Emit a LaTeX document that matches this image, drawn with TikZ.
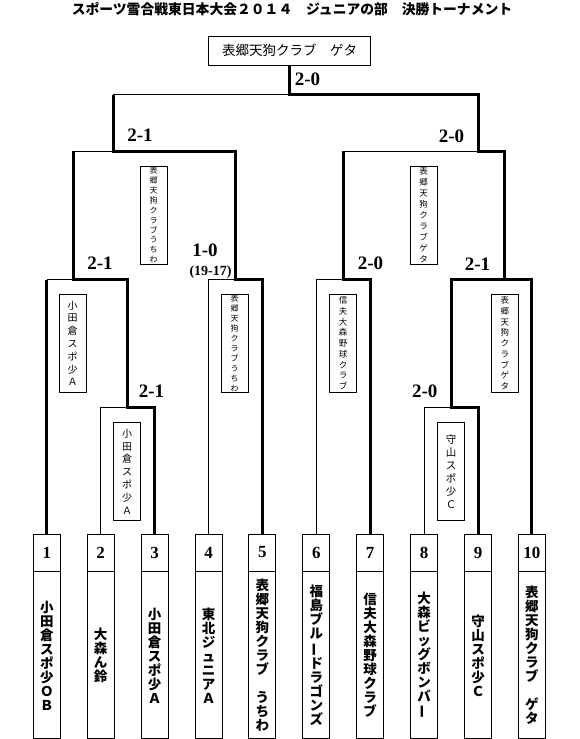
\documentclass[tikz,border=0pt]{standalone}
\usepackage{fontspec}
\usepackage{graphicx}
\setmainfont{Noto Sans CJK JP}
\newfontfamily\numfont{Liberation Serif}
\newcommand\vbar{\rotatebox[origin=c]{90}{ー}}
\tikzset{
  loseline/.style={line width=0.9pt},
  winline/.style={line width=3pt, line join=miter},
  numbox/.style={draw, line width=0.9pt, minimum width=27pt, minimum height=37pt, inner sep=0pt,
    font=\numfont\bfseries\fontsize{17}{17}\selectfont},
  namebox/.style={draw, line width=0.9pt, minimum width=27pt, minimum height=167pt, inner sep=0pt,
    align=center, anchor=north, font=\bfseries\fontsize{13.5}{14}\selectfont},
  lbox/.style={draw, line width=0.8pt, minimum width=27pt, minimum height=98pt, inner sep=0pt, align=center},
  score/.style={font=\numfont\bfseries\fontsize{19}{19}\selectfont, inner sep=0pt},
}
\begin{document}
\begin{tikzpicture}[x=1pt, y=-1pt]
\useasboundingbox (0,0) rectangle (580,739);

% title
\node[font=\bfseries\fontsize{13.8}{14}\selectfont, inner sep=0pt] (title) at (292,9.5)
  {スポーツ雪合戦東日本大会２０１４　ジュニアの部　決勝トーナメント};

% champion box
\node[draw, line width=0.9pt, minimum width=162.4pt, minimum height=29pt, inner sep=0pt,
  font=\fontsize{13.5}{13.5}\selectfont] (final) at (289.5,50.5) {表郷天狗クラブ　ゲタ};

% team boxes
\foreach \i in {1,...,10} {
  \node[numbox] (n\i) at ({46.8+(\i-1)*53.9},552.5) {\i};
}
\node[namebox] (t1) at (n1.south) {小\\田\\倉\\ス\\ポ\\少\\Ｏ\\Ｂ};
\node[namebox] (t2) at (n2.south) {大\\森\\ん\\鈴};
\node[namebox] (t3) at (n3.south) {小\\田\\倉\\ス\\ポ\\少\\Ａ};
\node[namebox] (t4) at (n4.south) {東\\北\\ジ\\ュ\\ニ\\ア\\Ａ};
\node[namebox] (t5) at (n5.south) {表\\郷\\天\\狗\\ク\\ラ\\ブ\\　\\う\\ち\\わ};
\node[namebox] (t6) at (n6.south) {福\\島\\ブ\\ル\\\vbar\\ド\\ラ\\ゴ\\ン\\ズ};
\node[namebox] (t7) at (n7.south) {信\\夫\\大\\森\\野\\球\\ク\\ラ\\ブ};
\node[namebox] (t8) at (n8.south) {大\\森\\ビ\\ッ\\グ\\ボ\\ン\\バ\\\vbar};
\node[namebox] (t9) at (n9.south) {守\\山\\ス\\ポ\\少\\Ｃ};
\node[namebox] (t10) at (n10.south) {表\\郷\\天\\狗\\ク\\ラ\\ブ\\　\\ゲ\\タ};

% junctions
\coordinate (j23) at (127.7,407.5);
\coordinate (j1) at (73.3,279.5);
\coordinate (j45) at (235,279.5);
\coordinate (jL) at (113.3,151);
\coordinate (jF) at (289.5,94.5);
\coordinate (j67) at (343.3,279.5);
\coordinate (j89) at (451,407.5);
\coordinate (j910) at (504.3,279.5);
\coordinate (jR) at (478.3,151);

% losing lines
\draw[loseline] (n2.north) |- (j23);
\draw[loseline] (n1.north |- j1) -- (j1);
\draw[loseline] (j1 |- jL) -- (jL);
\draw[loseline] (n4.north) |- (j45);
\draw[loseline] (jL |- jF) -- (jF);
\draw[loseline] (n6.north) |- (j67);
\draw[loseline] (j67 |- jR) -- (jR);
\draw[loseline] (n8.north) |- (j89);

% winning lines
\draw[winline] (n1.north) -- (n1.north |- j1);
\draw[winline] (n3.north) |- (j23) -- (j23 |- j1) -- (j1) -- (j1 |- jL);
\draw[winline] (n5.north) |- (j45) -- (j45 |- jL) -- (jL) -- (jL |- jF);
\draw[winline] (n7.north) |- (j67) -- (j67 |- jR);
\draw[winline] (n9.north) |- (j89) -- (j89 |- j910) -- (j910);
\draw[winline] (n10.north) |- (j910) -- (j910 |- jR) -- (jR) -- (jR |- jF) -- (jF) -- (final.south);

% winner label boxes
\node[lbox, font=\fontsize{8}{9.9}\selectfont] (lbL) at (153.7,215) {表\\郷\\天\\狗\\ク\\ラ\\ブ\\う\\ち\\わ};
\node[lbox, font=\fontsize{8.5}{11}\selectfont] (lbR) at (423.7,215) {表\\郷\\天\\狗\\ク\\ラ\\ブ\\ゲ\\タ};
\node[lbox, font=\fontsize{10}{12.8}\selectfont] (lb1) at (72.7,343.3) {小\\田\\倉\\ス\\ポ\\少\\Ａ};
\node[lbox, font=\fontsize{10}{12.8}\selectfont] (lb23) at (127,471.5) {小\\田\\倉\\ス\\ポ\\少\\Ａ};
\node[lbox, font=\fontsize{8}{9.9}\selectfont] (lb45) at (234.7,343.3) {表\\郷\\天\\狗\\ク\\ラ\\ブ\\う\\ち\\わ};
\node[lbox, font=\fontsize{8.5}{10.75}\selectfont] (lb67) at (343,343.3) {信\\夫\\大\\森\\野\\球\\ク\\ラ\\ブ};
\node[lbox, font=\fontsize{8.5}{10.75}\selectfont] (lb910) at (504.9,343.3) {表\\郷\\天\\狗\\ク\\ラ\\ブ\\ゲ\\タ};
\node[lbox, font=\fontsize{10.5}{13}\selectfont] (lb89) at (451,471.5) {守\\山\\ス\\ポ\\少\\Ｃ};

% scores
\node[score] (sF) at (307.5,79) {2-0};
\node[score] (sL) at (140,135) {2-1};
\node[score] (sR) at (451.5,136.5) {2-0};
\node[score] (s1) at (100,263.5) {2-1};
\node[score] (s45) at (205,250) {1-0};
\node[font=\numfont\bfseries\fontsize{14}{14}\selectfont, inner sep=0pt] (s45b) at (210.5,272.5) {(19-17)};
\node[score] (s67) at (370.5,263.5) {2-0};
\node[score] (s910) at (477.5,264.5) {2-1};
\node[score] (s23) at (151.5,391.5) {2-1};
\node[score] (s89) at (424.7,391.5) {2-0};
\end{tikzpicture}
\end{document}
